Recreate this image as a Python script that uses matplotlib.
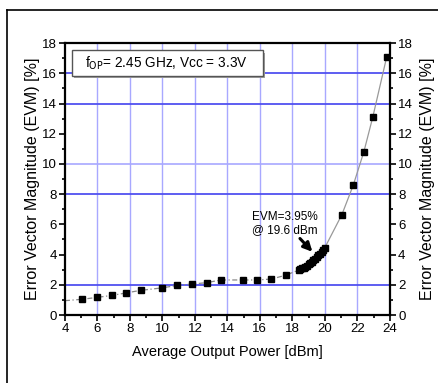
import matplotlib
matplotlib.use("Agg")
import matplotlib.pyplot as plt
from matplotlib.lines import Line2D
from matplotlib.patches import Rectangle

plt.rcParams['font.family'] = ['Liberation Sans', 'DejaVu Sans']

# measured points
power = [5.05, 6.0, 6.9, 7.75, 8.65, 10.0, 10.9, 11.8, 12.72, 13.6, 14.93, 15.83, 16.7, 17.58,
         18.40, 18.50, 18.60, 18.70, 18.80, 18.90, 19.00, 19.10, 19.20, 19.30, 19.40,
         19.50, 19.60, 19.70, 19.80, 19.90, 19.98,
         21.05, 21.75, 22.4, 22.95, 23.8]
evm = [1.04, 1.17, 1.30, 1.46, 1.63, 1.80, 1.96, 2.05, 2.14, 2.32, 2.32, 2.32, 2.38, 2.63,
       2.98, 3.03, 3.08, 3.13, 3.20, 3.27, 3.35, 3.43, 3.52, 3.62, 3.73,
       3.84, 3.95, 4.07, 4.20, 4.33, 4.42,
       6.65, 8.60, 10.80, 13.10, 17.05]

# guide curve (starts at left axis)
curve_x = [4.0] + power
curve_y = [0.95] + evm

x_ticks = [4, 6, 8, 10, 12, 14, 16, 18, 20, 22, 24]
y_ticks = [0, 2, 4, 6, 8, 10, 12, 14, 16, 18]
x_minor = [5, 7, 9, 11, 13, 15, 17, 19, 21, 23]
y_minor = [1, 3, 5, 7, 9, 11, 13, 15, 17]
strong_h = [2, 8, 14, 16]
light_h = [10]
v_grid = [6, 8, 10, 12, 14, 16, 18, 20, 22]
ylabel = 'Error Vector Magnitude (EVM) [%]'

fig = plt.figure(figsize=(4.39, 3.83), dpi=100)
ax = fig.add_axes([0.148, 0.1775, 0.740, 0.710])
ax.set_xlim(4, 24)
ax.set_ylim(0, 18)

for v in v_grid:
    ax.axvline(v, color='#a8a8ff', lw=1.0, zorder=0)
for h in strong_h:
    ax.axhline(h, color='#5050f0', lw=1.3, zorder=0)
for h in light_h:
    ax.axhline(h, color='#a8a8ff', lw=1.2, zorder=0)

lo = [(x, y) for x, y in zip(curve_x, curve_y) if x <= 18.5]
hi = [(x, y) for x, y in zip(curve_x, curve_y) if x >= 18.4]
ax.plot([p[0] for p in lo], [p[1] for p in lo], color='#888888', lw=0.9,
        linestyle=(0, (4, 2, 1, 2)), zorder=2)
ax.plot([p[0] for p in hi], [p[1] for p in hi], color='#999999', lw=0.9, zorder=2)
ax.plot(power, evm, linestyle='none', marker='s', ms=3.8, color='black', zorder=3)

ax.set_xticks(x_ticks)
ax.set_yticks(y_ticks)
ax.set_xticks(x_minor, minor=True)
ax.set_yticks(y_minor, minor=True)
for s in ax.spines.values():
    s.set_linewidth(1.6)

ax.set_xlabel('Average Output Power [dBm]', fontsize=10.5, labelpad=7)
ax.set_ylabel(ylabel, fontsize=11.5, labelpad=1)

ax2 = ax.twinx()
ax2.set_ylim(0, 18)
ax2.set_yticks(y_ticks)
ax2.set_yticks(y_minor, minor=True)
for s in ax2.spines.values():
    s.set_visible(False)
ax2.set_ylabel(ylabel, fontsize=11.5, rotation=90, labelpad=5)
ax2.yaxis.set_label_position('right')

for a in (ax, ax2):
    a.tick_params(axis='both', which='major', direction='out', length=4, width=1.2,
                  labelsize=9.5, pad=2)
    a.tick_params(axis='both', which='minor', direction='out', length=2.5, width=1.2)

# legend-like box with shadow
bx0, by0, bw, bh = 0.0215, 0.879, 0.588, 0.095
ax.add_patch(Rectangle((bx0 + 0.007, by0 - 0.009), bw, bh, transform=ax.transAxes,
                       fc='#a0a0a0', ec='none', zorder=4))
ax.add_patch(Rectangle((bx0, by0), bw, bh, transform=ax.transAxes,
                       fc='white', ec='#555555', lw=1.0, zorder=5))
ax.text(0.062, by0 + bh / 2, r'f$_{\rm OP}$= 2.45 GHz, Vcc = 3.3V', transform=ax.transAxes,
        fontsize=9.8, va='center', ha='left', zorder=6)

ax.annotate('', xy=(19.35, 4.05), xytext=(18.35, 5.2),
            arrowprops=dict(arrowstyle='-|>', color='black', lw=2.2, mutation_scale=13), zorder=6)
ax.text(17.55, 6.05, 'EVM=3.95%\n@ 19.6 dBm', fontsize=8.5, ha='center', va='center',
        linespacing=1.05, zorder=6)

# outer frame lines
fig.add_artist(Line2D([0.016, 1.0], [1 - 10 / 383, 1 - 10 / 383], color='black', lw=1.2,
                      transform=fig.transFigure))
fig.add_artist(Line2D([0.016, 0.016], [0.0, 1 - 10 / 383], color='black', lw=1.2,
                      transform=fig.transFigure))

fig.savefig('out.png', dpi=100)
